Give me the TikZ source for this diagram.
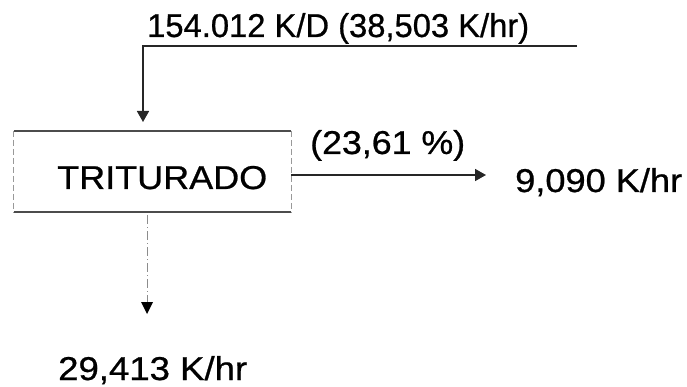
\documentclass[tikz,border=0pt]{standalone}
\usepackage{fontspec}
\setmainfont{Liberation Sans}
\newfontfamily\labfont[FakeBold=0.7]{Liberation Sans}
\usetikzlibrary{arrows.meta}
% stretch a label horizontally to a given width, keeping its height
\newcommand\widelabel[2]{\resizebox{#1}{\height}{#2}}
\tikzset{
  flowline/.style={draw=black!85, line width=1.6pt},
  tip/.style={-{Triangle[width=12pt,length=11pt]}},
  label/.style={inner sep=0pt, anchor=base west, font=\labfont\fontsize{33pt}{33pt}\selectfont, text=black},
  sideedge/.style={draw=black!40, line width=1.3pt, dash pattern=on 6pt off 3pt},
  dotline/.style={draw=black!45, line width=1pt, dash pattern=on 9pt off 3pt on 1pt off 3pt},
}
\begin{document}
\begin{tikzpicture}[x=1pt, y=-1pt]
  \useasboundingbox (0,0) rectangle (687,387);

  % crusher box
  \node[minimum width=277pt, minimum height=81pt, inner sep=0pt] (box) at (152.5,171.5) {};
  \node[label] (boxtext) at (57,189) {\widelabel{210pt}{TRITURADO}};
  \draw[flowline, draw=black!70] (box.north west) -- (box.north east);
  \draw[flowline, draw=black!70] (box.south west) -- (box.south east);
  \draw[sideedge] (box.north west) -- (box.south west);
  \draw[sideedge] (box.north east) -- (box.south east);

  % feed stream
  \coordinate (feedstart) at (577,46);
  \coordinate (feedcorner) at (143,46);
  \coordinate (feedend) at (143,122);
  \node[label] (feed) at (147,37) {\widelabel{382pt}{154.012 K/D (38,503 K/hr)}};
  \draw[flowline, tip] (feedstart) -- (feedcorner) -- (feedend);

  % side product
  \coordinate (sideend) at (486,175);
  \draw[flowline, tip] (box.east |- sideend) -- (sideend);
  \node[label] (pct) at (310,154) {\widelabel{155pt}{(23,61 \%)}};
  \node[label] (side) at (515,192) {\widelabel{167pt}{9,090 K/hr}};

  % main product
  \coordinate (downstart) at (147,215);
  \coordinate (downend) at (147,314);
  \draw[dotline] (downstart) -- (147,302);
  \draw[draw=none, fill=black] (141,302) -- (153,302) -- (downend) -- cycle;
  \node[label] (main) at (58,380) {\widelabel{189pt}{29,413 K/hr}};
\end{tikzpicture}
\end{document}
